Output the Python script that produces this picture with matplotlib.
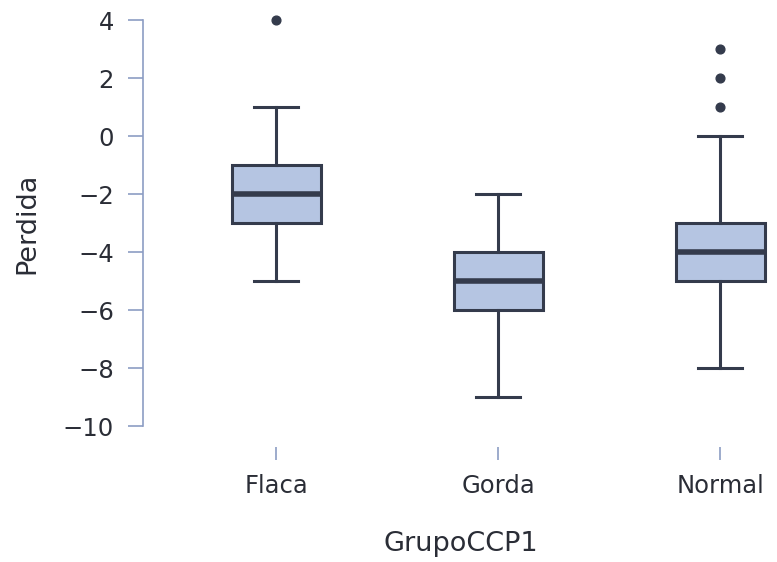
import matplotlib.pyplot as plt

# datos
grupos = ["Flaca", "Gorda", "Normal"]
q1 = [-3, -6, -5]
mediana = [-2, -5, -4]
q3 = [-1, -4, -3]
bigote_inf = [-5, -9, -8]
bigote_sup = [1, -2, 0]
atipicos = [[4], [], [1, 2, 3]]

caja_color = "#b5c5e2"
borde = "#343b4c"
eje_color = "#8c9dc4"
texto = "#2a2d36"

plt.rcParams['font.family'] = ['DejaVu Sans']

fig = plt.figure(figsize=(7.77, 5.62), dpi=100)
ax = fig.add_axes([143 / 777, 115 / 562, 635.4 / 777, 435.7 / 562])

stats = []
for i, g in enumerate(grupos):
    stats.append({
        "label": g, "q1": q1[i], "med": mediana[i], "q3": q3[i],
        "whislo": bigote_inf[i], "whishi": bigote_sup[i], "fliers": atipicos[i],
    })

ax.bxp(stats, positions=range(len(grupos)), widths=0.4, patch_artist=True,
       boxprops=dict(facecolor=caja_color, edgecolor=borde, linewidth=2.2),
       medianprops=dict(color=borde, linewidth=4, solid_capstyle="butt"),
       whiskerprops=dict(color=borde, linewidth=2.2),
       capprops=dict(color=borde, linewidth=2.2),
       capwidths=0.2,
       flierprops=dict(marker="o", markerfacecolor=borde, markeredgecolor=borde,
                       markersize=6.3))

ax.set_xlim(-0.6, 2.262)
ax.set_ylim(-10.72, 4.3)
ax.set_yticks(range(-10, 5, 2))
ax.set_yticklabels([str(v).replace("-", "\u2212") for v in range(-10, 5, 2)])

for s in ["top", "right", "bottom"]:
    ax.spines[s].set_visible(False)
ax.spines["left"].set_bounds(-10, 4)
ax.spines["left"].set_color(eje_color)
ax.spines["left"].set_linewidth(1.2)

ax.tick_params(axis="y", length=11, width=1.2, color=eje_color, pad=10,
               labelsize=17.5, labelcolor=texto)
ax.tick_params(axis="x", length=9.5, width=1.2, color=eje_color, pad=10,
               labelsize=17.5, labelcolor=texto)

ax.set_xlabel("GrupoCCP1", fontsize=19.5, color=texto, labelpad=24)
ax.set_ylabel("Perdida", fontsize=19.5, color=texto)
ax.yaxis.set_label_coords(-0.1826, 0.514)
ax.yaxis.label.set_va("center")

fig.savefig("out.png", dpi=100)
